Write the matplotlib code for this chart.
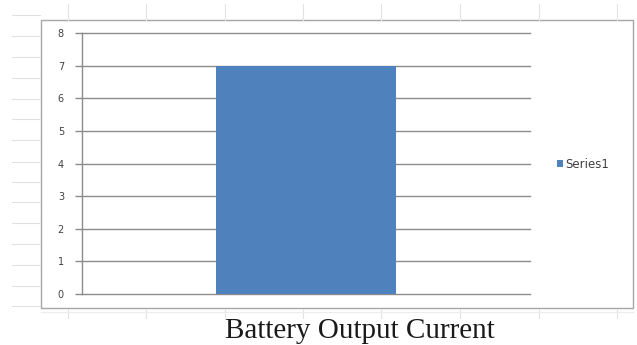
import matplotlib
matplotlib.use("Agg")
import matplotlib.pyplot as plt
from matplotlib.lines import Line2D
from matplotlib.patches import Rectangle

# Chart data
categories = ["1"]
series_name = "Series1"
values = [7]
y_ticks = [0, 1, 2, 3, 4, 5, 6, 7, 8]
title = "Battery Output Current"

W, H = 637, 345
fig = plt.figure(figsize=(W / 100, H / 100), dpi=100)
fig.patch.set_facecolor("white")


def fx(px):
    return px / W


def fy(py):
    return 1 - py / H


# Faint worksheet cell lines around the embedded chart
sheet_col = "#e2e2e2"
for x in [68, 146, 225, 303, 381, 460, 539, 617]:
    fig.add_artist(Line2D([fx(x), fx(x)], [fy(4), fy(20)], color=sheet_col, lw=0.8))
    fig.add_artist(Line2D([fx(x), fx(x)], [fy(309), fy(318)], color=sheet_col, lw=0.8))
for y in [15, 36, 57, 78, 99, 119, 140, 162, 182, 202, 223, 244, 265, 286, 306]:
    fig.add_artist(Line2D([fx(12), fx(40)], [fy(y), fy(y)], color=sheet_col, lw=0.8))
fig.add_artist(Line2D([fx(41), fx(633)], [fy(312), fy(312)], color="#ececec", lw=0.8))

# Chart area border
fig.add_artist(Rectangle((fx(41), fy(308)), fx(633) - fx(41), fy(20) - fy(308),
                         fill=True, facecolor="white", edgecolor="#a6a6a6", lw=1.0,
                         transform=fig.transFigure, zorder=0.5))

ax = fig.add_axes([fx(82), fy(294), fx(530) - fx(82), fy(33) - fy(294)])
ax.set_facecolor("none")
ax.set_zorder(2)

bars = ax.bar(range(len(categories)), values, width=0.4, color="#4f81bd",
              label=series_name, zorder=3)

ax.set_xlim(-0.5, len(categories) - 0.5)
ax.set_ylim(y_ticks[0], y_ticks[-1])
ax.set_yticks(y_ticks)
ax.set_xticks([])

grid_col = "#8c8c8c"
ax.yaxis.grid(True, color=grid_col, lw=1.0, zorder=1)
ax.set_axisbelow(True)
for gl in ax.get_ygridlines():
    gl.set_clip_on(False)
for side in ["top", "right", "bottom"]:
    ax.spines[side].set_visible(False)
ax.spines["left"].set_color(grid_col)
ax.spines["left"].set_linewidth(1.0)
ax.tick_params(axis="y", length=5, width=1.0, color=grid_col, labelsize=7,
               labelcolor="#404040", pad=8)

leg = ax.legend(loc="center left", bbox_to_anchor=(fx(546), fy(164)),
                bbox_transform=fig.transFigure, frameon=False, fontsize=8.5,
                handlelength=0.5, handleheight=0.5, handletextpad=0.25,
                labelcolor="#404040")

fig.text(fx(360), fy(338), title, ha="center", va="baseline",
         family="Liberation Serif", fontsize=21, color="#1a1a1a")

fig.savefig("out.png", dpi=100, facecolor="white")
